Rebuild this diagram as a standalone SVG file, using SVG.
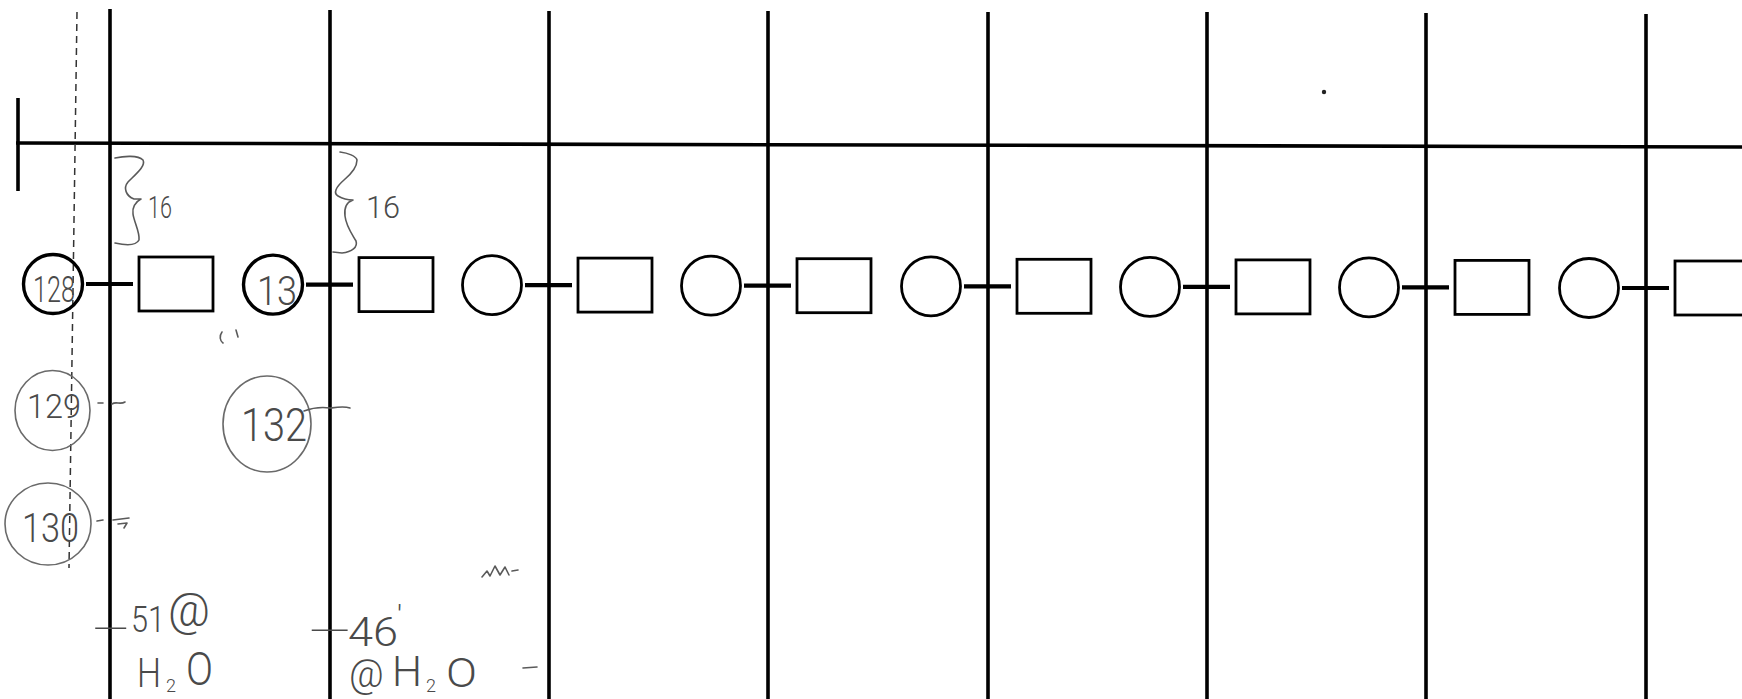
<svg xmlns="http://www.w3.org/2000/svg" width="1742" height="699" viewBox="0 0 1742 699">
<defs>
<style>
.rule{stroke:#000;stroke-width:3.6;fill:none;stroke-linecap:butt}
.c{fill:none;stroke:#000;stroke-width:2.8}
.cb{fill:none;stroke:#000;stroke-width:3.4}
.r{fill:none;stroke:#000;stroke-width:2.8}
.k{stroke:#000;stroke-width:4.2;fill:none}
.hc{fill:none;stroke:#6a6a6a;stroke-width:1.6}
.hs{fill:none;stroke:#5a5a5a;stroke-width:1.6;stroke-linecap:round;stroke-linejoin:round}
.ht{font-family:Roboto,"Liberation Sans",sans-serif;font-weight:300;fill:#4a4a4a}
</style>
</defs>
<rect width="1742" height="699" fill="#fff"/>
<g id="grid">
<line class="rule" x1="18" y1="98" x2="18" y2="191"/>
<line class="rule" x1="16" y1="143" x2="1742" y2="147"/>
<line class="rule" x1="110" y1="9" x2="110" y2="699"/>
<line class="rule" x1="330" y1="10" x2="330" y2="699"/>
<line class="rule" x1="549" y1="11" x2="549" y2="699"/>
<line class="rule" x1="768" y1="11" x2="768" y2="699"/>
<line class="rule" x1="988" y1="12" x2="988" y2="699"/>
<line class="rule" x1="1207" y1="12" x2="1207" y2="699"/>
<line class="rule" x1="1426" y1="13" x2="1426" y2="699"/>
<line class="rule" x1="1646" y1="14" x2="1646" y2="699"/>
<line x1="77" y1="12" x2="69" y2="568" stroke="#333" stroke-width="1.5" stroke-dasharray="7 5"/>
</g>
<g id="connectors">
<line class="k" x1="86" y1="284" x2="133" y2="284"/>
<line class="k" x1="306" y1="284.6" x2="353" y2="284.6"/>
<line class="k" x1="525" y1="285.1" x2="572" y2="285.1"/>
<line class="k" x1="744" y1="285.7" x2="791" y2="285.7"/>
<line class="k" x1="964" y1="286.3" x2="1011" y2="286.3"/>
<line class="k" x1="1183" y1="286.9" x2="1230" y2="286.9"/>
<line class="k" x1="1402" y1="287.4" x2="1449" y2="287.4"/>
<line class="k" x1="1622" y1="288" x2="1669" y2="288"/>
</g>
<g id="circle-0"><circle class="cb" cx="53" cy="284" r="29.5"/>
<text class="ht" x="33" y="302" font-size="36" textLength="42" lengthAdjust="spacingAndGlyphs">128</text></g>
<g id="box-0"><rect class="r" x="139" y="257" width="74" height="54"/></g>
<g id="circle-1"><circle class="cb" cx="273" cy="284.6" r="29.5"/>
<text class="ht" x="257" y="305" font-size="40" textLength="40" lengthAdjust="spacingAndGlyphs">13</text></g>
<g id="box-1"><rect class="r" x="359" y="257.6" width="74" height="54"/></g>
<g id="circle-2"><circle class="c" cx="492" cy="285.1" r="29.5"/></g>
<g id="box-2"><rect class="r" x="578" y="258.1" width="74" height="54"/></g>
<g id="circle-3"><circle class="c" cx="711" cy="285.7" r="29.5"/></g>
<g id="box-3"><rect class="r" x="797" y="258.7" width="74" height="54"/></g>
<g id="circle-4"><circle class="c" cx="931" cy="286.3" r="29.5"/></g>
<g id="box-4"><rect class="r" x="1017" y="259.3" width="74" height="54"/></g>
<g id="circle-5"><circle class="c" cx="1150" cy="286.9" r="29.5"/></g>
<g id="box-5"><rect class="r" x="1236" y="259.9" width="74" height="54"/></g>
<g id="circle-6"><circle class="c" cx="1369" cy="287.4" r="29.5"/></g>
<g id="box-6"><rect class="r" x="1455" y="260.4" width="74" height="54"/></g>
<g id="circle-7"><circle class="c" cx="1589" cy="288" r="29.5"/></g>
<g id="box-7"><rect class="r" x="1675" y="261" width="74" height="54"/></g>
<g id="brace-1">
<path class="hs" d="M115,158 C124,156 138,155 143,160 C146,166 136,174 128,182 C123,188 126,196 134,199 L141,199 C135,202 132,208 133,214 C134,222 140,232 139,240 C136,246 124,245 115,243"/>
<text class="ht" x="148" y="218" font-size="32" textLength="24" lengthAdjust="spacingAndGlyphs">16</text>
</g>
<g id="brace-2">
<path class="hs" d="M340,152 C348,153 356,156 357,160 C357,168 350,175 344,180 C336,187 333,193 338,196 C343,199 349,200 353,200 C347,202 344,208 345,216 C346,226 352,234 356,241 C358,247 352,252 342,253 L333,252"/>
<text class="ht" x="366" y="218" font-size="32" textLength="34" lengthAdjust="spacingAndGlyphs">16</text>
</g>
<g id="note-129">
<ellipse class="hc" cx="52.5" cy="410.5" rx="37.5" ry="40"/>
<text class="ht" x="27" y="418" font-size="34" textLength="54" lengthAdjust="spacingAndGlyphs">129</text>
<path class="hs" d="M98,403 L103,403 M112,404 C116,401 120,405 125,402"/>
</g>
<g id="note-130">
<ellipse class="hc" cx="48" cy="524" rx="43" ry="41"/>
<text class="ht" x="22" y="542" font-size="40" textLength="57" lengthAdjust="spacingAndGlyphs">130</text>
<path class="hs" d="M97,521 L103,520 M113,520 L129,518 M118,524 L127,523 L124,528"/>
</g>
<g id="note-132">
<ellipse class="hc" cx="267" cy="424" rx="44" ry="48"/>
<text class="ht" x="241" y="441" font-size="46" textLength="66" lengthAdjust="spacingAndGlyphs">132</text>
<path class="hs" d="M304,411 C312,408 322,407 330,408 M331,408 C338,407 344,406 350,408"/>
</g>
<g id="note-51">
<text class="ht"><tspan x="92" y="638" font-size="30" textLength="38" lengthAdjust="spacingAndGlyphs">-</tspan><tspan x="131" y="632" font-size="36" textLength="34" lengthAdjust="spacingAndGlyphs">51</tspan><tspan x="168" y="626" font-size="46">@</tspan></text>
<text class="ht"><tspan x="137" y="687" font-size="40" textLength="24" lengthAdjust="spacingAndGlyphs">H</tspan><tspan x="166" y="692" font-size="18">2</tspan><tspan x="186" y="685" font-size="46" textLength="27" lengthAdjust="spacingAndGlyphs">O</tspan></text>
</g>
<g id="note-46">
<text class="ht"><tspan x="308" y="640" font-size="30" textLength="44" lengthAdjust="spacingAndGlyphs">-</tspan><tspan x="348" y="646" font-size="40" textLength="50" lengthAdjust="spacingAndGlyphs">46</tspan><tspan x="397" y="626" font-size="30">'</tspan></text>
<text class="ht"><tspan x="349" y="687" font-size="38">@</tspan><tspan x="392" y="686" font-size="42" textLength="30" lengthAdjust="spacingAndGlyphs">H</tspan><tspan x="426" y="692" font-size="18">2</tspan><tspan x="446" y="687" font-size="40" textLength="31" lengthAdjust="spacingAndGlyphs">O</tspan></text>
<path class="hs" d="M523,668 L537,667"/>
</g>
<g id="marks" fill="#555">
<path class="hs" d="M482,577 L487,571 L490,576 L495,566 L500,575 L505,567 L509,575 M512,571 L518,570"/>
<circle cx="1324" cy="92" r="2.2" fill="#222"/>
<path class="hs" d="M222,332 C219,336 220,341 223,343 M236,330 L238,337"/>
</g>
</svg>
